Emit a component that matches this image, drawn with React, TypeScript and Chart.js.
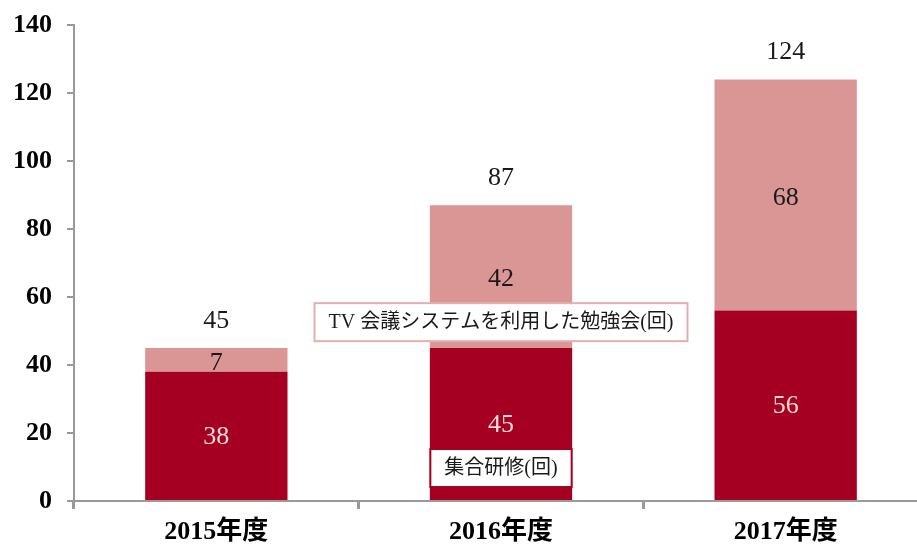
import React, { useEffect, useRef } from "react";
import { Chart, registerables } from "chart.js";

Chart.register(...registerables);

const categories = ["2015年度", "2016年度", "2017年度"];
const groupTraining = [38, 45, 56];
const tvStudy = [7, 42, 68];
const totals = [45, 87, 124];
const seriesNames = ["集合研修(回)", "TV 会議システムを利用した勉強会(回)"];
const yMax = 140;
const yStep = 20;

const DARK = "#A50021";
const LIGHT = "#D99694";
const NUM_FONT = "26px 'Liberation Serif', 'Noto Sans CJK JP', serif";
const BOX_FONT = "20px 'Liberation Serif', 'Noto Sans CJK JP', serif";

const labelPlugin = {
  id: "labelPlugin",
  afterDatasetsDraw(chart: any) {
    const ctx = chart.ctx;
    const m0 = chart.getDatasetMeta(0);
    const m1 = chart.getDatasetMeta(1);
    ctx.save();
    ctx.textAlign = "center";
    ctx.textBaseline = "middle";
    ctx.font = NUM_FONT;
    categories.forEach((_, i) => {
      const b0 = m0.data[i];
      const b1 = m1.data[i];
      ctx.fillStyle = "#F4D9D8";
      ctx.fillText(String(groupTraining[i]), b0.x, (b0.y + b0.base) / 2 + 1);
      ctx.fillStyle = "#1a1a1a";
      ctx.fillText(String(tvStudy[i]), b1.x, (b1.y + b1.base) / 2 + 3);
      ctx.fillText(String(totals[i]), b1.x, b1.y - 27);
    });
    // callouts (series names)
    const xs = chart.scales.x;
    const ys = chart.scales.y;
    const callouts = [
      { text: seriesNames[1], cat: 1, val: 52.6, color: "#E3AFAE" },
      { text: seriesNames[0], cat: 1, val: 9.7, color: DARK },
    ];
    ctx.font = BOX_FONT;
    callouts.forEach((c) => {
      const cx = xs.getPixelForValue(c.cat);
      const cy = ys.getPixelForValue(c.val);
      const w = ctx.measureText(c.text).width + 28;
      const h = 38;
      ctx.fillStyle = "#ffffff";
      ctx.fillRect(cx - w / 2, cy - h / 2, w, h);
      ctx.strokeStyle = c.color;
      ctx.lineWidth = 2;
      ctx.strokeRect(cx - w / 2, cy - h / 2, w, h);
      ctx.fillStyle = "#1a1a1a";
      ctx.fillText(c.text, cx, cy + 1);
    });
    ctx.restore();
  },
};

export default function App() {
  const ref = useRef<HTMLCanvasElement>(null);
  useEffect(() => {
    if (!ref.current) return;
    const chart = new Chart(ref.current, {
      type: "bar",
      data: {
        labels: categories,
        datasets: [
          {
            label: seriesNames[0],
            data: groupTraining,
            backgroundColor: DARK,
            barPercentage: 0.5,
            categoryPercentage: 1,
          },
          {
            label: seriesNames[1],
            data: tvStudy,
            backgroundColor: LIGHT,
            barPercentage: 0.5,
            categoryPercentage: 1,
          },
        ],
      },
      options: {
        responsive: false,
        animation: false,
        layout: { padding: { top: 25, left: 0, right: 0, bottom: 0 } },
        plugins: {
          legend: { display: false },
          tooltip: { enabled: false },
        },
        scales: {
          x: {
            stacked: true,
            afterFit: (s: any) => {
              s.height = 47;
              s.paddingLeft = 0;
              s.paddingRight = 0;
            },
            grid: {
              drawOnChartArea: false,
              drawTicks: true,
              tickLength: 8,
              color: "#999999",
              lineWidth: 3,
              offset: true,
            },
            border: { color: "#999999", width: 2 },
            ticks: {
              color: "#000000",
              padding: 8,
              font: {
                family: "'Liberation Serif', 'Noto Sans CJK JP', serif",
                size: 26,
                weight: "bold",
              },
            },
          },
          y: {
            stacked: true,
            min: 0,
            max: yMax,
            afterFit: (s: any) => {
              s.width = 74;
              s.paddingTop = 0;
              s.paddingBottom = 0;
            },
            grid: {
              drawOnChartArea: false,
              drawTicks: true,
              tickLength: 7,
              color: "#999999",
              lineWidth: 2,
            },
            border: { color: "#999999", width: 2 },
            ticks: {
              stepSize: yStep,
              color: "#000000",
              padding: 15,
              font: {
                family: "'Liberation Serif', serif",
                size: 26,
                weight: "bold",
              },
            },
          },
        },
      },
      plugins: [labelPlugin],
    });
    return () => chart.destroy();
  }, []);
  return (
    <div
      style={{
        position: "fixed",
        left: 0,
        top: 0,
        width: 917,
        height: 548,
        overflow: "hidden",
        background: "#ffffff",
      }}
    >
      <canvas ref={ref} width={928} height={548} style={{ display: "block" }} />
    </div>
  );
}
